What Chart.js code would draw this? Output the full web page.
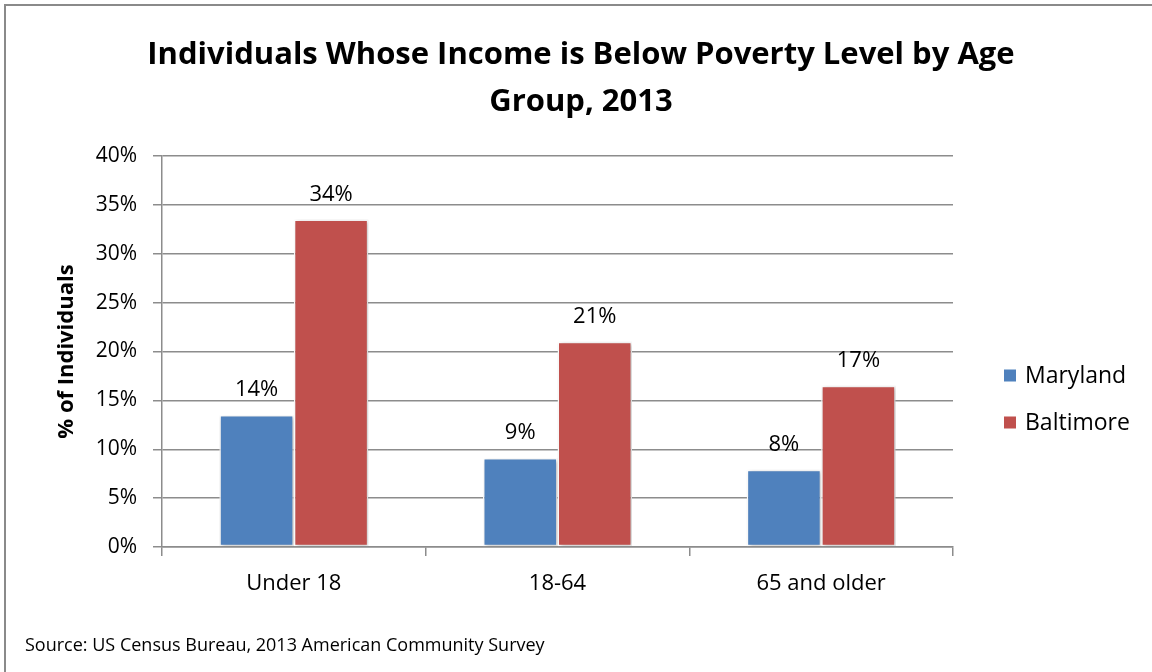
<!DOCTYPE html>
<html>
<head>
<meta charset="utf-8">
<title>Individuals Whose Income is Below Poverty Level by Age Group, 2013</title>
<script src="https://cdn.jsdelivr.net/npm/chart.js@4.4.1/dist/chart.umd.min.js"></script>
<style>
  html, body { margin: 0; padding: 0; background: #ffffff; }
  #chart { display: block; }
</style>
</head>
<body>
<canvas id="chart" width="1152" height="672"></canvas>
<script>
// Age groups on the x axis
const ageGroups = ['Under 18', '18-64', '65 and older'];
// Share of individuals below the poverty level, in percent
const marylandValues = [13.5, 9.1, 7.9];
const baltimoreValues = [33.5, 21.0, 16.5];
const seriesNames = ['Maryland', 'Baltimore'];
// Y axis range and step, in percent
const yTicks = [0, 5, 10, 15, 20, 25, 30, 35, 40];

const titleLines = ['Individuals Whose Income is Below Poverty Level by Age', 'Group, 2013'];
const yAxisTitle = '% of Individuals';
const sourceNote = 'Source: US Census Bureau, 2013 American Community Survey';

const FONT = "'Open Sans', 'Liberation Sans', sans-serif";
const BLUE = '#4F81BD';
const RED = '#C0504D';
const GRID = '#8c8c8c';
const LEGEND_WIDTH = 179;

// Outer frame and source line
const framePlugin = {
  id: 'frame',
  beforeDraw(chart) {
    const ctx = chart.ctx;
    ctx.save();
    ctx.fillStyle = '#ffffff';
    ctx.fillRect(0, 0, chart.width, chart.height);
    ctx.strokeStyle = '#8a8a8a';
    ctx.lineWidth = 2;
    ctx.beginPath();
    ctx.moveTo(5, chart.height);
    ctx.lineTo(5, 5);
    ctx.lineTo(chart.width, 5);
    ctx.stroke();
    ctx.restore();
  },
  afterDraw(chart) {
    const ctx = chart.ctx;
    ctx.save();
    ctx.fillStyle = '#000000';
    ctx.font = '18px ' + FONT;
    ctx.textAlign = 'left';
    ctx.textBaseline = 'alphabetic';
    ctx.fillText(sourceNote, 25, 651);
    ctx.restore();
  }
};

// Soft shadow behind the bars
const barShadowPlugin = {
  id: 'barShadow',
  beforeDatasetsDraw(chart) {
    const ctx = chart.ctx;
    ctx.save();
    ctx.shadowColor = 'rgba(0,0,0,0.25)';
    ctx.shadowBlur = 4;
    ctx.shadowOffsetX = 1.5;
    ctx.shadowOffsetY = 1;
  },
  afterDatasetsDraw(chart) {
    chart.ctx.restore();
  }
};

// Value labels above each bar
const valueLabelPlugin = {
  id: 'valueLabels',
  afterDraw(chart) {
    const ctx = chart.ctx;
    ctx.save();
    ctx.fillStyle = '#000000';
    ctx.font = '22px ' + FONT;
    ctx.textAlign = 'center';
    ctx.textBaseline = 'alphabetic';
    chart.data.datasets.forEach((ds, i) => {
      const meta = chart.getDatasetMeta(i);
      meta.data.forEach((bar, j) => {
        const v = ds.data[j];
        ctx.fillText(Math.round(v) + '%', bar.x, bar.y - 19);
      });
    });
    ctx.restore();
  }
};

// Legend in its own layout box on the right, drawn from the datasets
const sideLegendPlugin = {
  id: 'sideLegend',
  beforeInit(chart) {
    const box = {
      position: 'right',
      weight: 1000,
      fullSize: false,
      options: {},
      left: 0, top: 0, right: 0, bottom: 0, width: 0, height: 0,
      isHorizontal() { return false; },
      update(maxWidth, maxHeight) {
        this.width = LEGEND_WIDTH;
        this.height = maxHeight;
      },
      draw() {
        const ctx = chart.ctx;
        const x0 = this.left + 51;
        const y0 = 375.5;
        const step = 47;
        ctx.save();
        ctx.font = '23px ' + FONT;
        ctx.textAlign = 'left';
        ctx.textBaseline = 'alphabetic';
        chart.data.datasets.forEach((ds, i) => {
          const cy = y0 + i * step;
          ctx.fillStyle = ds.backgroundColor;
          ctx.fillRect(x0, cy - 6, 12, 12);
          ctx.fillStyle = '#000000';
          ctx.fillText(ds.label, x0 + 21, cy + 7);
        });
        ctx.restore();
      }
    };
    Chart.layouts.addBox(chart, box);
  }
};

function buildChart() {
  const ctx = document.getElementById('chart').getContext('2d');
  new Chart(ctx, {
    type: 'bar',
    data: {
      labels: ageGroups,
      datasets: [
        {
          label: seriesNames[0],
          data: marylandValues,
          backgroundColor: BLUE,
          borderColor: '#ffffff',
          borderWidth: 1.5,
          borderSkipped: false,
          categoryPercentage: 0.565,
          barPercentage: 1.0
        },
        {
          label: seriesNames[1],
          data: baltimoreValues,
          backgroundColor: RED,
          borderColor: '#ffffff',
          borderWidth: 1.5,
          borderSkipped: false,
          categoryPercentage: 0.565,
          barPercentage: 1.0
        }
      ]
    },
    options: {
      responsive: false,
      animation: false,
      devicePixelRatio: 1,
      layout: { padding: { left: 30, right: 20, top: 0, bottom: 70 } },
      plugins: {
        legend: { display: false },
        tooltip: { enabled: false },
        title: {
          display: true,
          text: titleLines,
          color: '#000000',
          font: { family: FONT, size: 31, weight: 'bold', lineHeight: 1.5 },
          padding: { top: 32, bottom: 31 }
        }
      },
      scales: {
        x: {
          grid: {
            display: true,
            drawOnChartArea: false,
            drawTicks: true,
            tickLength: 9,
            offset: true,
            color: GRID,
            lineWidth: 1.5
          },
          border: { display: true, color: GRID, width: 1.5 },
          ticks: {
            color: '#000000',
            font: { family: FONT, size: 22 },
            padding: 15
          },
          afterFit(scale) { scale.height = 55; }
        },
        y: {
          min: yTicks[0],
          max: yTicks[yTicks.length - 1],
          afterBuildTicks(scale) {
            scale.ticks = yTicks.map(v => ({ value: v }));
          },
          grid: {
            color: GRID,
            lineWidth: 1.5,
            drawTicks: true,
            tickLength: 9
          },
          border: { display: true, color: GRID, width: 1.5 },
          ticks: {
            color: '#000000',
            font: { family: FONT, size: 21 },
            padding: 16,
            callback: v => v + '%'
          },
          title: {
            display: true,
            text: yAxisTitle,
            color: '#000000',
            font: { family: FONT, size: 22, weight: 'bold' },
            padding: { top: 24, bottom: 0 }
          },
          afterFit(scale) { scale.width = 132; }
        }
      }
    },
    plugins: [framePlugin, barShadowPlugin, valueLabelPlugin, sideLegendPlugin]
  });
}

const fontLoads = [
  document.fonts.load("bold 31px 'Open Sans'"),
  document.fonts.load("22px 'Open Sans'")
];
Promise.all(fontLoads).then(buildChart, buildChart);
</script>
</body>
</html>
